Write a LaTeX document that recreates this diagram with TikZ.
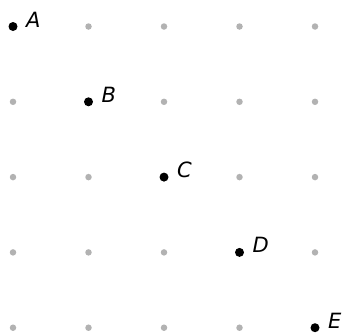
\documentclass[tikz,border=0pt]{standalone}
\usepackage{fontspec}
\setmainfont{DejaVu Sans}
\tikzset{
  griddot/.style={fill=lightgray!80!gray, draw=none, circle, inner sep=0pt, minimum size=6.5pt},
  pointdot/.style={fill=black, draw=none, circle, inner sep=0pt, minimum size=9pt},
  pointlabel/.style={anchor=base west, inner sep=0pt, font=\fontsize{21}{24}\selectfont\itshape}
}
\begin{document}
\begin{tikzpicture}[x=1pt,y=-1pt]
  \useasboundingbox (0,0) rectangle (347,335);
  % Raster aus grauen Punkten
  \foreach \i in {0,...,4}
    \foreach \j in {0,...,4}
      \node[griddot] (g\i\j) at (13+75.5*\i, 26.5+75.3*\j) {};
  % Die Punkte auf der Diagonale mit Beschriftung
  \foreach \name [count=\k from 0] in {A,B,C,D,E} {
    \node[pointdot] (\name) at (13+75.5*\k, 26.5+75.3*\k) {};
    \node[pointlabel] (lbl\name) at ([xshift=13pt,yshift=-0.5pt]\name.center) {\name};
  }
\end{tikzpicture}
\end{document}
